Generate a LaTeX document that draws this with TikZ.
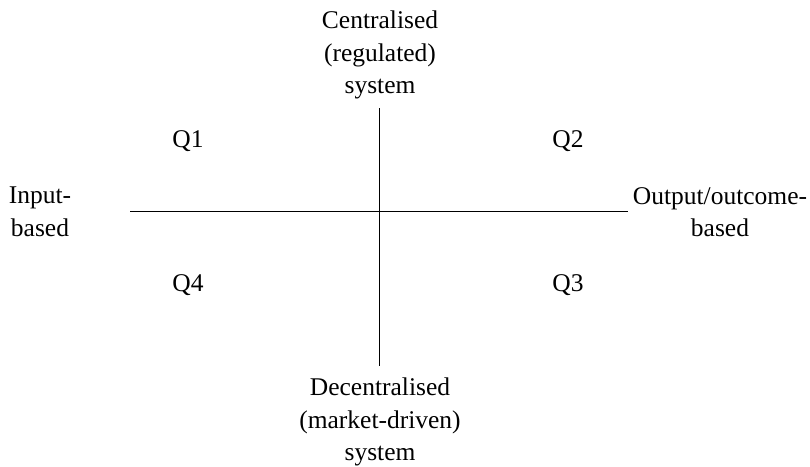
\documentclass[tikz,border=0pt]{standalone}
\usepackage{fontspec}
\setmainfont{Liberation Serif}

\begin{document}
\begin{tikzpicture}[x=1pt, y=-1pt, every node/.style={font=\fontsize{25.5}{32.5}\selectfont, align=center, inner sep=0pt}]
  \useasboundingbox (0,0) rectangle (810,466);
  \node (central) at (380,55) {Centralised\\(regulated)\\system};
  \node (decentral) at (380,422) {Decentralised\\(market-driven)\\system};
  \node (input) at (40,212) {Input-\\based};
  \node (output) at (720,212) {Output/outcome-\\based};
  \node (q1) at (188,141) {Q1};
  \node (q2) at (568,141) {Q2};
  \node (q4) at (188,285) {Q4};
  \node (q3) at (568,285) {Q3};
  \coordinate (top) at (379.5,108);
  \coordinate (bottom) at (379.5,366);
  \coordinate (left) at (130,211);
  \coordinate (right) at (628,211);
  % Draw the axes
  \draw (top) -- (bottom);
  \draw (left) -- (right);
\end{tikzpicture}
\end{document}
